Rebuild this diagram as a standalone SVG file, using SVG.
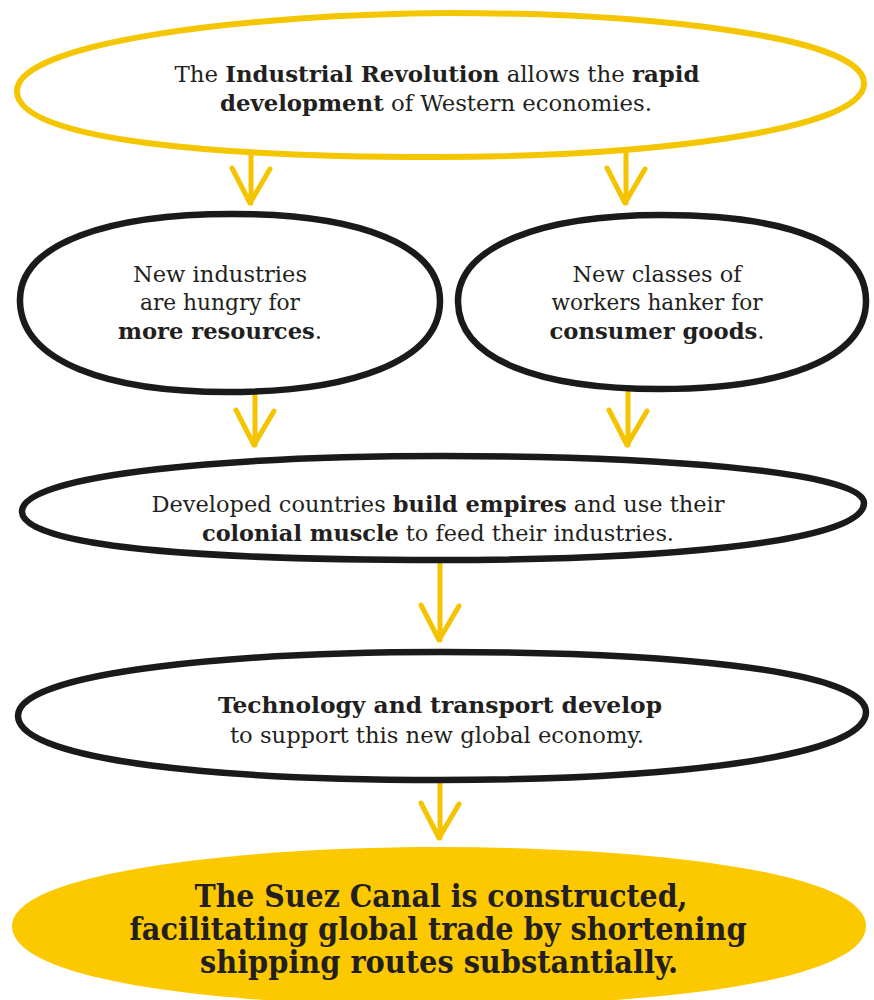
<svg xmlns="http://www.w3.org/2000/svg" width="874" height="1000" viewBox="0 0 874 1000">
<style>
.bg{fill:#ffffff}
.ink{fill:none;stroke:#1a1a1a;stroke-width:6.5;stroke-linecap:round;stroke-linejoin:round}
.yel{fill:none;stroke:#F4C600;stroke-width:6;stroke-linecap:round;stroke-linejoin:round}
.fillY{fill:#FCC800;stroke:none}
.arr{fill:none;stroke:#F5C400;stroke-width:5;stroke-linecap:round;stroke-linejoin:round}
.t{font-family:"DejaVu Serif Condensed","DejaVu Serif","Liberation Serif",serif;font-size:22px;fill:#231f20;text-anchor:middle;font-weight:300}
.b{font-weight:bold}
.big{font-family:"DejaVu Serif Condensed","DejaVu Serif","Liberation Serif",serif;font-size:31px;font-weight:bold;fill:#231f20;text-anchor:middle}
</style>
<rect class="bg" x="0" y="0" width="874" height="1000"/>

<g id="connectors">
  <path class="arr" d="M251 152 V203 M232 168 L250 203 L270 169"/>
  <path class="arr" d="M626 152 V203 M607 168 L625 203 L645 169"/>
  <path class="arr" d="M255 394 V445 M236 410 L254 445 L274 411"/>
  <path class="arr" d="M628 392 V445 M609 410 L627 445 L647 411"/>
  <path class="arr" d="M440 562 V640 M421 605 L439 640 L459 606"/>
  <path class="arr" d="M440 782 V838 M421 803 L439 838 L459 804"/>
</g>

<g id="node-industrial-revolution">
  <path class="yel" d="M17 92 C14 42 250 14 448 13 C 645 13 866 36 864 84 C 862 132 640 157 435 157 C 228 157 19 142 17 92 Z"/>
  <text class="t" x="437" y="82" textLength="525" lengthAdjust="spacingAndGlyphs">The <tspan class="b">Industrial Revolution</tspan> allows the <tspan class="b">rapid</tspan></text>
  <text class="t" x="436" y="111" textLength="432" lengthAdjust="spacingAndGlyphs"><tspan class="b">development</tspan> of Western economies.</text>
</g>

<g id="node-resources">
  <path class="ink" d="M20 302 C18 242 112 214 232 214 C 362 214 441 246 440 302 C 439 362 350 392 228 392 C 108 392 22 362 20 302 Z"/>
  <text class="t" x="220" y="282" textLength="174" lengthAdjust="spacingAndGlyphs">New industries</text>
  <text class="t" x="220" y="310" textLength="160" lengthAdjust="spacingAndGlyphs">are hungry for</text>
  <text class="t" x="220" y="339" textLength="204" lengthAdjust="spacingAndGlyphs"><tspan class="b">more resources</tspan>.</text>
</g>

<g id="node-consumer">
  <path class="ink" d="M458 302 C457 246 542 215 662 215 C 792 215 867 246 866 302 C 865 360 780 389 660 389 C 540 389 459 360 458 302 Z"/>
  <text class="t" x="657" y="282" textLength="169" lengthAdjust="spacingAndGlyphs">New classes of</text>
  <text class="t" x="657" y="310" textLength="211" lengthAdjust="spacingAndGlyphs">workers hanker for</text>
  <text class="t" x="657" y="339" textLength="215" lengthAdjust="spacingAndGlyphs"><tspan class="b">consumer goods</tspan>.</text>
</g>

<g id="node-empires">
  <path class="ink" d="M22 512 C20 472 250 456 442 456 C 642 456 864 470 864 503 C 864 545 640 560 440 560 C 238 560 24 550 22 512 Z"/>
  <text class="t" x="438" y="512" textLength="573" lengthAdjust="spacingAndGlyphs">Developed countries <tspan class="b">build empires</tspan> and use their</text>
  <text class="t" x="438" y="541" textLength="472" lengthAdjust="spacingAndGlyphs"><tspan class="b">colonial muscle</tspan> to feed their industries.</text>
</g>

<g id="node-technology">
  <path class="ink" d="M18 716 C17 670 250 652 442 652 C 650 652 866 668 866 712 C 866 760 650 780 438 780 C 228 780 19 762 18 716 Z"/>
  <text class="t b" x="440" y="713" textLength="444" lengthAdjust="spacingAndGlyphs">Technology and transport develop</text>
  <text class="t" x="437" y="743" textLength="414" lengthAdjust="spacingAndGlyphs">to support this new global economy.</text>
</g>

<g id="node-suez">
  <path class="fillY" d="M12 926 C12 872 240 847 440 847 C 640 847 866 870 866 926 C 866 984 640 1006 440 1006 C 240 1006 12 984 12 926 Z"/>
  <text class="big" x="441" y="907" textLength="493" lengthAdjust="spacingAndGlyphs">The Suez Canal is constructed,</text>
  <text class="big" x="438" y="940" textLength="617" lengthAdjust="spacingAndGlyphs">facilitating global trade by shortening</text>
  <text class="big" x="439" y="973" textLength="478" lengthAdjust="spacingAndGlyphs">shipping routes substantially.</text>
</g>
</svg>
